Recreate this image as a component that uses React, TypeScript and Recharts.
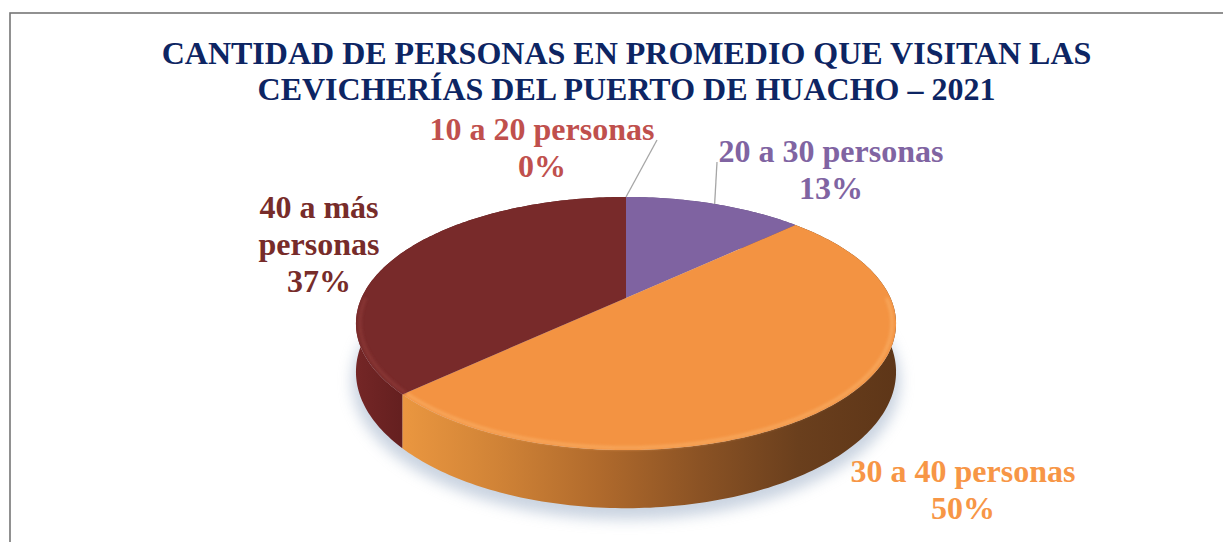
import React from 'react';
import { PieChart, Pie, Customized } from 'recharts';

// ---------- data ----------
const CATEGORIES = ['10 a 20 personas', '20 a 30 personas', '30 a 40 personas', '40 a más personas'];
const PERCENTS = [0, 13, 50, 37];
const TITLE_LINES = [
  'CANTIDAD DE PERSONAS EN PROMEDIO QUE VISITAN LAS',
  'CEVICHERÍAS DEL PUERTO DE HUACHO – 2021',
];

const data = CATEGORIES.map((name, i) => ({ name, value: PERCENTS[i] }));

// ---------- styles / layout ----------
const W = 1223;
const H = 534;
const CX = 618;
const CY = 290;
const R = 264.5;
const TILT = 0.459;
const PERSP = 0.2016;
const DEPTH = 46.4;
const FONT = "'Liberation Serif', 'Times New Roman', serif";

const TOP_COLORS = ['#c0504d', '#7f63a1', '#f39342', '#782a2a'];
const RIM_COLORS = ['#d06a66', '#9580b3', '#f9ad64', '#8f3a38'];
const LABEL_COLORS = ['#c0504d', '#8064a2', '#f79646', '#772c2a'];
const WALL_FILLS = ['#8a3836', '#5a4676', 'url(#wallOrange)', 'url(#wallRed)'];

const LABEL_LAYOUT = [
  { x: 534, y: 132, wrap: false, leader: [649, 132] },
  { x: 823, y: 154, wrap: false, leader: [709, 154] },
  { x: 955, y: 474, wrap: false, leader: null },
  { x: 311, y: 210, wrap: true, leader: null },
];
const LINE_H = 37;

const proj = (cx: number, cy: number, r: number, angDeg: number, h = 0): [number, number] => {
  const a = (angDeg * Math.PI) / 180;
  const u = Math.cos(a);
  const v = -Math.sin(a);
  const d = 1 - PERSP * v;
  return [cx + (r * u) / d, cy + (r * TILT * v) / d + h / d];
};

const arcPoints = (cx: number, cy: number, r: number, a1: number, a2: number, h = 0) => {
  const n = Math.max(2, Math.ceil(Math.abs(a2 - a1)));
  const pts: [number, number][] = [];
  for (let k = 0; k <= n; k++) {
    pts.push(proj(cx, cy, r, a1 + ((a2 - a1) * k) / n, h));
  }
  return pts;
};

const toPath = (pts: [number, number][]) =>
  pts.map((p, i) => `${i === 0 ? 'M' : 'L'}${p[0].toFixed(2)},${p[1].toFixed(2)}`).join(' ');

const renderWall = (props: any) => {
  const { cx, cy, outerRadius, startAngle, endAngle, index } = props;
  const parts: React.ReactNode[] = [];
  if (index === 0) {
    const shadow = arcPoints(cx, cy + 9, outerRadius * 1.015, 0, 360, DEPTH);
    parts.push(
      <defs key="defs">
        <filter id="pieShadow" x="-20%" y="-50%" width="140%" height="200%">
          <feGaussianBlur stdDeviation="7" />
        </filter>
        <filter id="rimBlur" x="-10%" y="-10%" width="120%" height="120%">
          <feGaussianBlur stdDeviation="1.4" />
        </filter>
        <linearGradient id="wallOrange" gradientUnits="userSpaceOnUse" x1={cx - outerRadius * 1.02} y1={0} x2={cx + outerRadius * 1.02} y2={0}>
          <stop offset="0" stopColor="#f2a14e" />
          <stop offset="0.1" stopColor="#e8953f" />
          <stop offset="0.27" stopColor="#cf8236" />
          <stop offset="0.45" stopColor="#b06a2c" />
          <stop offset="0.64" stopColor="#8a5224" />
          <stop offset="0.82" stopColor="#6a3f1d" />
          <stop offset="1" stopColor="#5e3618" />
        </linearGradient>
        <linearGradient id="wallRed" gradientUnits="userSpaceOnUse" x1={cx - outerRadius * 1.02} y1={0} x2={cx - outerRadius * 0.75} y2={0}>
          <stop offset="0" stopColor="#742626" />
          <stop offset="1" stopColor="#5c1c1c" />
        </linearGradient>
      </defs>
    );
    parts.push(
      <path key="shadow" d={toPath(shadow) + ' Z'} fill="#9fb0c8" opacity={0.55} filter="url(#pieShadow)" />
    );
  }
  if (Math.abs(endAngle - startAngle) > 0.01) {
    const top = arcPoints(cx, cy, outerRadius, startAngle, endAngle, 0);
    const bottom = arcPoints(cx, cy, outerRadius, startAngle, endAngle, DEPTH).reverse();
    parts.push(
      <path key="wall" d={toPath([...top, ...bottom]) + ' Z'} fill={WALL_FILLS[index]} stroke="none" />
    );
  }
  return <g key={`wall-${index}`}>{parts}</g>;
};

const renderTop = (props: any) => {
  const { cx, cy, outerRadius, startAngle, endAngle, index } = props;
  if (Math.abs(endAngle - startAngle) < 0.01) return <g key={`top-${index}`} />;
  const pts: [number, number][] = [[cx, cy], ...arcPoints(cx, cy, outerRadius, startAngle, endAngle, 0)];
  // bevel highlight along the front-facing part of the rim (angles between -180 and 0)
  const lo = Math.max(Math.min(startAngle, endAngle), -180);
  const hi = Math.min(Math.max(startAngle, endAngle), 0);
  const rim = hi > lo ? arcPoints(cx, cy, outerRadius * 0.985, lo, hi, 0) : null;
  return (
    <g key={`top-${index}`}>
      <path d={toPath(pts) + ' Z'} fill={TOP_COLORS[index]} stroke="none" />
      {rim && (
        <path
          d={toPath(rim)}
          fill="none"
          stroke={RIM_COLORS[index]}
          strokeWidth={3}
          opacity={0.8}
          filter="url(#rimBlur)"
        />
      )}
    </g>
  );
};

const renderText = (props: any) => {
  const { cx, cy, outerRadius, startAngle, endAngle, index, name, percent } = props;
  const mid = props.midAngle !== undefined ? props.midAngle : (startAngle + endAngle) / 2;
  const lay = LABEL_LAYOUT[index];
  const label = String(name);
  const lines = lay.wrap
    ? [label.slice(0, label.lastIndexOf(' ')), label.slice(label.lastIndexOf(' ') + 1)]
    : [label];
  lines.push(`${Math.round((percent || 0) * 100)}%`);
  const [sx, sy] = proj(cx, cy, outerRadius, mid);
  return (
    <g key={`txt-${index}`}>
      {lay.leader && (
        <line x1={sx} y1={sy} x2={lay.leader[0]} y2={lay.leader[1]} stroke="#a6a6a6" strokeWidth={1.3} />
      )}
      <text
        x={lay.x}
        y={lay.y}
        textAnchor="middle"
        fill={LABEL_COLORS[index]}
        fontFamily={FONT}
        fontWeight="bold"
        fontSize={32}
      >
        {lines.map((l, k) => (
          <tspan key={k} x={lay.x} dy={k === 0 ? 0 : LINE_H}>
            {l}
          </tspan>
        ))}
      </text>
    </g>
  );
};

const Decor = () => (
  <g>
    <rect x={2} y={5} width={W + 40} height={H + 40} fill="none" stroke="#767676" strokeWidth={1.6} />
    {TITLE_LINES.map((t, i) => (
      <text
        key={i}
        x={618.5}
        y={56 + 36 * i}
        textAnchor="middle"
        fill="#0d2563"
        fontFamily={FONT}
        fontWeight="bold"
        fontSize={32}
      >
        {t}
      </text>
    ))}
  </g>
);

export default function App() {
  return (
    <div style={{ width: W, height: H, background: '#ffffff' }}>
      <PieChart width={W} height={H} margin={{ top: 0, right: 0, bottom: 0, left: 0 }}>
        <Customized component={Decor} />
        <Pie
          data={data}
          dataKey="value"
          nameKey="name"
          cx={CX}
          cy={CY}
          outerRadius={R}
          startAngle={90}
          endAngle={-270}
          fill="none"
          stroke="none"
          isAnimationActive={false}
          labelLine={false}
          label={renderWall}
        />
        <Pie
          data={data}
          dataKey="value"
          nameKey="name"
          cx={CX}
          cy={CY}
          outerRadius={R}
          startAngle={90}
          endAngle={-270}
          fill="none"
          stroke="none"
          isAnimationActive={false}
          labelLine={false}
          label={renderTop}
        />
        <Pie
          data={data}
          dataKey="value"
          nameKey="name"
          cx={CX}
          cy={CY}
          outerRadius={R}
          startAngle={90}
          endAngle={-270}
          fill="none"
          stroke="none"
          isAnimationActive={false}
          labelLine={false}
          label={renderText}
        />
      </PieChart>
    </div>
  );
}
